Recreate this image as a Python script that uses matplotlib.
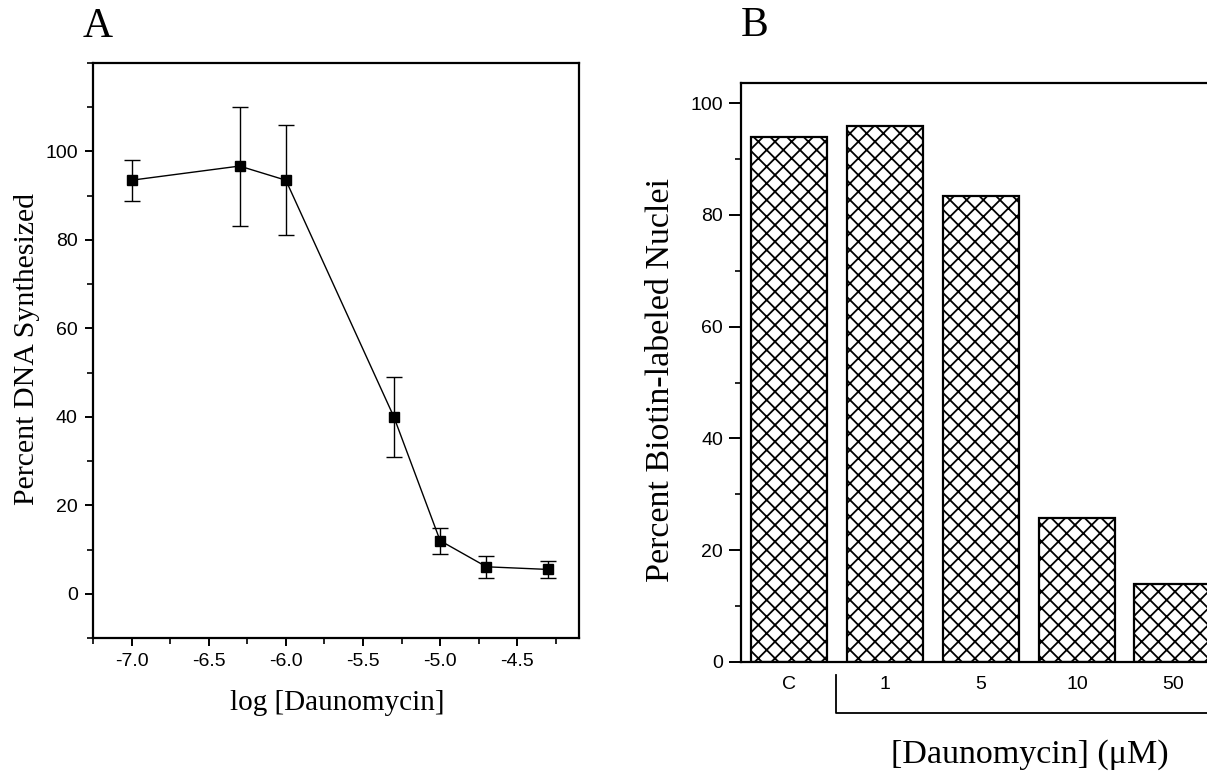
import numpy as np
import matplotlib
matplotlib.use("Agg")
import matplotlib.pyplot as plt
from matplotlib.ticker import MultipleLocator, FormatStrFormatter
from matplotlib.transforms import blended_transform_factory

# ---- panel A: DNA synthesis vs log[daunomycin] ----
log_conc = [-7.0, -6.3, -6.0, -5.3, -5.0, -4.7, -4.3]
pct_dna = [93.5, 96.7, 93.5, 40.0, 12.0, 6.1, 5.5]
err_low = [88.7, 83.2, 81.0, 31.0, 9.1, 3.6, 3.6]
err_high = [98.0, 110.0, 106.0, 49.0, 14.8, 8.6, 7.4]

# ---- panel B: biotin-labelled nuclei ----
groups = ["C", "1", "5", "10", "50"]
pct_biotin = [93.9, 95.9, 83.4, 25.8, 14.0]

serif = "Liberation Serif"
sans = "Liberation Sans"
plt.rcParams["font.family"] = sans
plt.rcParams["hatch.linewidth"] = 1.3

fig = plt.figure(figsize=(12.07, 7.71), dpi=100)
W, H = 1207, 771


def box(l, t, r, b):
    return [l / W, 1 - b / H, (r - l) / W, (b - t) / H]


# ===== A =====
axA = fig.add_axes(box(93, 63, 579, 638))
y = np.array(pct_dna)
yerr = [y - np.array(err_low), np.array(err_high) - y]
axA.errorbar(log_conc, pct_dna, yerr=yerr, color="black", lw=1.0,
             elinewidth=1.0, capsize=6, capthick=1.0,
             marker="s", markersize=6.5, mfc="black", mec="black")
axA.set_xlim(-7.25, -4.1)
axA.set_ylim(-10, 120)
axA.xaxis.set_major_locator(MultipleLocator(0.5))
axA.xaxis.set_minor_locator(MultipleLocator(0.25))
axA.xaxis.set_major_formatter(FormatStrFormatter("%.1f"))
axA.set_yticks([0, 20, 40, 60, 80, 100])
axA.yaxis.set_minor_locator(MultipleLocator(10))
for s in axA.spines.values():
    s.set_linewidth(1.6)
axA.tick_params(which="major", direction="out", length=6, width=1.4,
                labelsize=14, pad=5)
axA.tick_params(which="minor", direction="out", length=4, width=1.2)
fig.text(337 / W, 1 - 703 / H, "log [Daunomycin]", family=serif,
         fontsize=21, ha="center", va="center")
fig.text(27 / W, 1 - 349 / H, "Percent DNA Synthesized", family=serif,
         fontsize=21.5, ha="center", va="center", rotation=90)
fig.text(98 / W, 1 - 27 / H, "A", family=serif, fontsize=30,
         ha="center", va="center")

# ===== B =====
axB = fig.add_axes(box(741, 83, 1217, 662))
xpos = np.arange(len(groups))
axB.bar(xpos, pct_biotin, width=0.8, facecolor="white", edgecolor="black",
        linewidth=1.6, hatch="xx")
axB.set_xlim(-0.5, 4.46)
axB.set_ylim(0, 103.6)
axB.set_xticks(xpos)
axB.set_xticklabels(groups)
axB.set_yticks([0, 20, 40, 60, 80, 100])
axB.yaxis.set_minor_locator(MultipleLocator(10))
for s in axB.spines.values():
    s.set_linewidth(1.6)
axB.tick_params(axis="x", length=0, labelsize=14, pad=10)
axB.tick_params(axis="y", which="major", direction="out", length=9,
                width=1.4, labelsize=14, pad=4)
axB.tick_params(axis="y", which="minor", direction="out", length=4, width=1.2)

# bracket grouping the daunomycin doses
trans = blended_transform_factory(axB.transData, axB.transAxes)
axB.plot([0.49, 0.49, 6.0], [-0.022, -0.088, -0.088], color="black",
         lw=1.3, transform=trans, clip_on=False)

fig.text(1030 / W, 1 - 755 / H, "[Daunomycin] (\u03bcM)", family=serif,
         fontsize=24.5, ha="center", va="center")
fig.text(661 / W, 1 - 380 / H, "Percent Biotin-labeled Nuclei", family=serif,
         fontsize=24.5, ha="center", va="center", rotation=90)
fig.text(755 / W, 1 - 26 / H, "B", family=serif, fontsize=30,
         ha="center", va="center")

fig.savefig("out.png", dpi=100)
